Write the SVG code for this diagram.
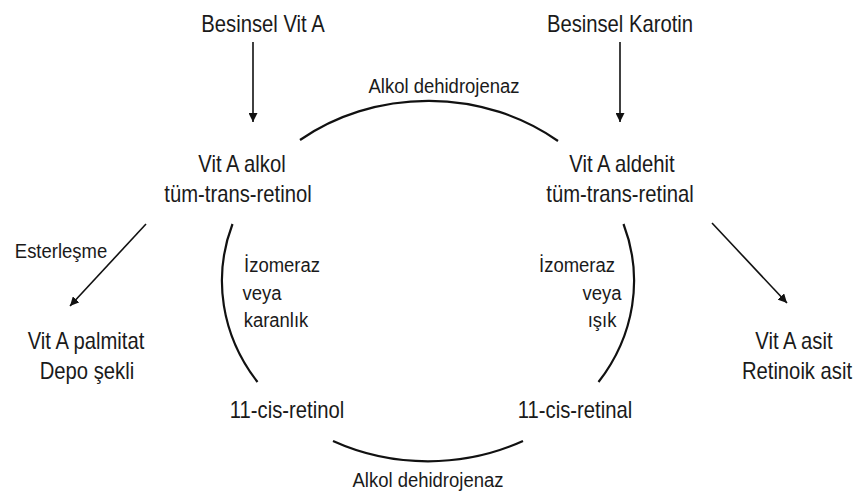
<svg xmlns="http://www.w3.org/2000/svg" width="860" height="497" viewBox="0 0 860 497">
<defs>
<marker id="ah" viewBox="0 0 10 10" refX="10" refY="5" markerWidth="9" markerHeight="9" markerUnits="userSpaceOnUse" orient="auto">
<path d="M0,0 L10,5 L0,10 z" fill="#111"/>
</marker>
<style>
text{font-family:"Liberation Sans",Arial,sans-serif;fill:#1a1a1a;text-anchor:middle;transform-box:fill-box;transform-origin:center;transform:scaleX(0.88)}
.m{font-size:23px}
.l{font-size:21px}
.c{fill:none;stroke:#111;stroke-width:1.6}
.a{fill:none;stroke:#111;stroke-width:2.2}
</style>
</defs>
<rect width="860" height="497" fill="#fff"/>
<g id="connectors">
<line class="c" x1="253" y1="42" x2="253" y2="122" marker-end="url(#ah)"/>
<line class="c" x1="620" y1="42" x2="620" y2="122" marker-end="url(#ah)"/>
<line class="c" x1="146" y1="224" x2="70" y2="306" marker-end="url(#ah)"/>
<line class="c" x1="712" y1="223" x2="787" y2="303" marker-end="url(#ah)"/>
<path class="a" d="M300,140 A206,180 0 0 1 558,141"/>
<path class="a" d="M232.5,224 A206,180 0 0 0 257.5,382"/>
<path class="a" d="M623.5,224 A206,180 0 0 1 598.5,382"/>
<path class="a" d="M333,441 A206,180 0 0 0 523,441"/>
</g>
<g id="besinsel-vit-a"><text class="m" x="263" y="32">Besinsel Vit A</text></g>
<g id="besinsel-karotin"><text class="m" x="620" y="32">Besinsel Karotin</text></g>
<g id="label-top"><text class="l" x="444" y="93">Alkol dehidrojenaz</text></g>
<g id="vit-a-alkol"><text class="m" x="242" y="172">Vit A alkol</text><text class="m" x="238" y="202">tüm-trans-retinol</text></g>
<g id="vit-a-aldehit"><text class="m" x="622" y="172">Vit A aldehit</text><text class="m" x="620" y="202">tüm-trans-retinal</text></g>
<g id="label-esterlesme"><text class="l" x="61" y="258">Esterleşme</text></g>
<g id="vit-a-palmitat"><text class="m" x="86" y="349">Vit A palmitat</text><text class="m" x="87" y="379">Depo şekli</text></g>
<g id="label-left"><text class="l" x="282" y="272">İzomeraz</text><text class="l" x="262" y="300">veya</text><text class="l" x="276" y="327">karanlık</text></g>
<g id="label-right"><text class="l" x="577" y="272">İzomeraz</text><text class="l" x="602" y="300">veya</text><text class="l" x="602" y="327">ışık</text></g>
<g id="vit-a-asit"><text class="m" x="794" y="349">Vit A asit</text><text class="m" x="797" y="379">Retinoik asit</text></g>
<g id="cis-retinol"><text class="m" x="287" y="418">11-cis-retinol</text></g>
<g id="cis-retinal"><text class="m" x="575" y="418">11-cis-retinal</text></g>
<g id="label-bottom"><text class="l" x="428" y="487">Alkol dehidrojenaz</text></g>
</svg>
